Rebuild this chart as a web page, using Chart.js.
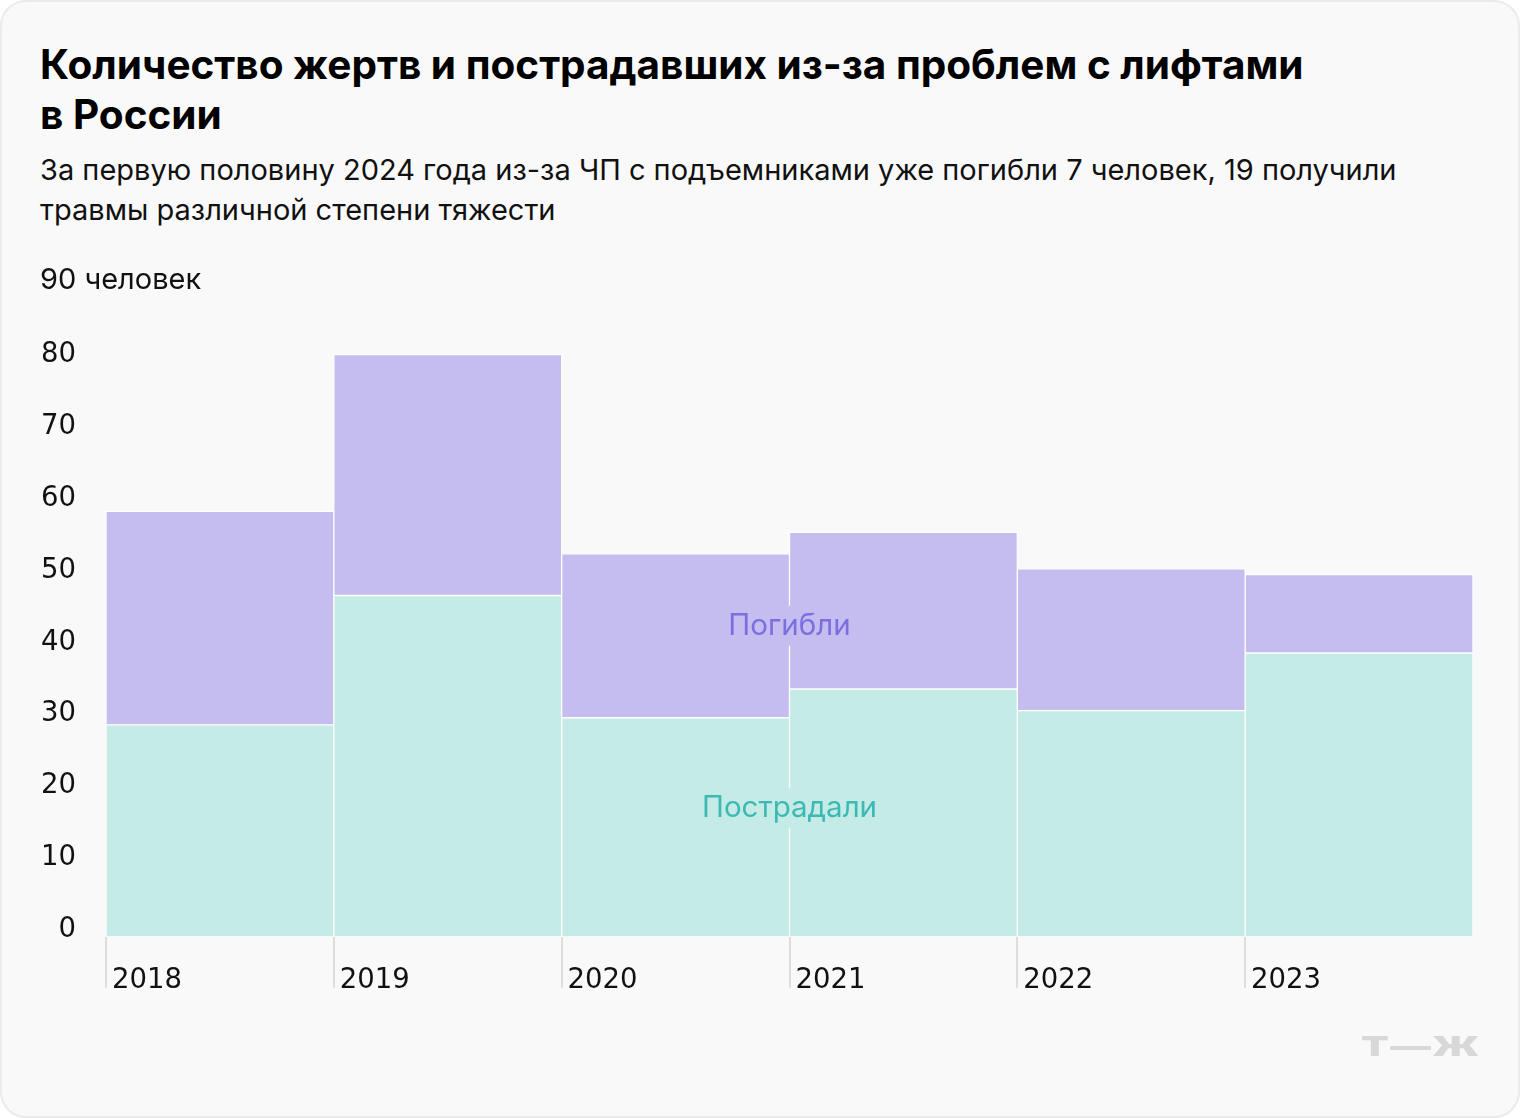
<!DOCTYPE html>
<html lang="ru">
<head>
  <meta charset="utf-8">
  <title>Жертвы и пострадавшие из-за лифтов</title>
  <script src="https://cdn.jsdelivr.net/npm/chart.js"></script>
  <style>
    body { margin: 0; background: #fff; font-family: Inter, 'Noto Sans', sans-serif; }
    .card {
      position: absolute; left: 0; top: 0; width: 1520px; height: 1118px;
      box-sizing: border-box; border: 2px solid #ebebeb; border-radius: 26px; background: #f9f9f9;
    }
    #chart { position: absolute; left: 0; top: 0; }
    .title {
      position: absolute; left: 40px; top: 40px; width: 1440px;
      font-size: 40.5px; line-height: 50px; font-weight: 700; color: #000;
    }
    .subtitle {
      position: absolute; left: 40px; top: 150px; width: 1440px;
      font-size: 29px; line-height: 40px; color: #111;
    }
    .logo {
      position: absolute; left: 1361px; top: 1030px;
      font-size: 27px; font-weight: 900; color: #d8d8d8; letter-spacing: 1px;
      transform: scaleX(1.5); transform-origin: left center;
    }
  </style>
</head>

<body>
  <div class="card"></div>
  <div class="title">Количество жертв и пострадавших из-за проблем с лифтами<br>в России</div>
  <div class="subtitle">За первую половину 2024 года из-за ЧП с подъемниками уже погибли 7 человек, 19 получили<br>травмы различной степени тяжести</div>
  <canvas id="chart" width="1520" height="1118"></canvas>
  <div class="logo">Т—Ж</div>

  <script>
    const years = ['2018', '2019', '2020', '2021', '2022', '2023'];
    const injured = [29.5, 47.5, 30.5, 34.5, 31.5, 39.5];     // Пострадали
    const killed = [29.7, 33.5, 22.8, 21.8, 19.7, 10.9];       // Погибли
    const yMax = 90;
    const yStep = 10;
    const yUnit = 'человек';

    const fontFamily = "Inter, 'Noto Sans', sans-serif";
    const numFont = "'DejaVu Sans', Inter, sans-serif";

    // inline series names instead of a legend
    const seriesLabels = [
      { text: 'Погибли', at: 43.3, color: '#7b6ee0', bg: '#c5bdef' },
      { text: 'Пострадали', at: 17.9, color: '#3db9b4', bg: '#c4ebe6' }
    ];

    const annotations = {
      id: 'annotations',
      afterDatasetsDraw(chart) {
        const { ctx, scales: { x, y } } = chart;
        ctx.save();
        ctx.font = `29.5px ${fontFamily}`;
        ctx.textBaseline = 'middle';
        ctx.textAlign = 'center';
        const cx = x.getPixelForValue(2.5);
        seriesLabels.forEach(l => {
          const cy = y.getPixelForValue(l.at);
          const w = ctx.measureText(l.text).width;
          ctx.fillStyle = l.bg;
          ctx.fillRect(cx - w / 2 - 4, cy - 20, w + 8, 40);
          ctx.fillStyle = l.color;
          ctx.fillText(l.text, cx, cy);
        });
        // top tick with unit, left aligned
        ctx.textAlign = 'left';
        ctx.fillStyle = '#111';
        ctx.font = `29px ${fontFamily}`;
        ctx.fillText(`${yMax} ${yUnit}`, 40, y.getPixelForValue(yMax) - 10);
        ctx.restore();
      }
    };

    new Chart(document.getElementById('chart'), {
      type: 'bar',
      data: {
        labels: years,
        datasets: [
          {
            label: 'Пострадали',
            data: injured,
            backgroundColor: '#c4ebe6',
            borderColor: '#ffffff',
            borderWidth: 1,
            borderSkipped: false
          },
          {
            label: 'Погибли',
            data: killed,
            backgroundColor: '#c5bdef',
            borderColor: '#ffffff',
            borderWidth: 1,
            borderSkipped: false
          }
        ]
      },
      options: {
        responsive: false,
        animation: false,
        layout: { padding: { top: 290, left: 0, right: 47, bottom: 121 } },
        datasets: { bar: { categoryPercentage: 1, barPercentage: 1 } },
        plugins: { legend: { display: false }, tooltip: { enabled: false } },
        scales: {
          x: {
            stacked: true,
            border: { display: false },
            grid: {
              offset: true,
              drawOnChartArea: false,
              drawTicks: true,
              tickLength: 51,
              lineWidth: 2,
              color: c => c.index < years.length ? '#dedede' : 'transparent'
            },
            ticks: {
              align: 'start',
              labelOffset: -108,
              padding: -24,
              color: '#111',
              font: { size: 27.5, family: numFont }
            },
            afterFit: s => { s.height = 60; }
          },
          y: {
            stacked: true,
            min: 0,
            max: yMax,
            border: { display: false },
            grid: { display: false },
            ticks: {
              stepSize: yStep,
              padding: 22,
              labelOffset: -7,
              color: '#111',
              font: { size: 27.5, family: numFont },
              callback: v => v === yMax ? '' : v
            },
            afterFit: s => { s.width = 106; }
          }
        }
      },
      plugins: [annotations]
    });
  </script>
</body>
</html>
